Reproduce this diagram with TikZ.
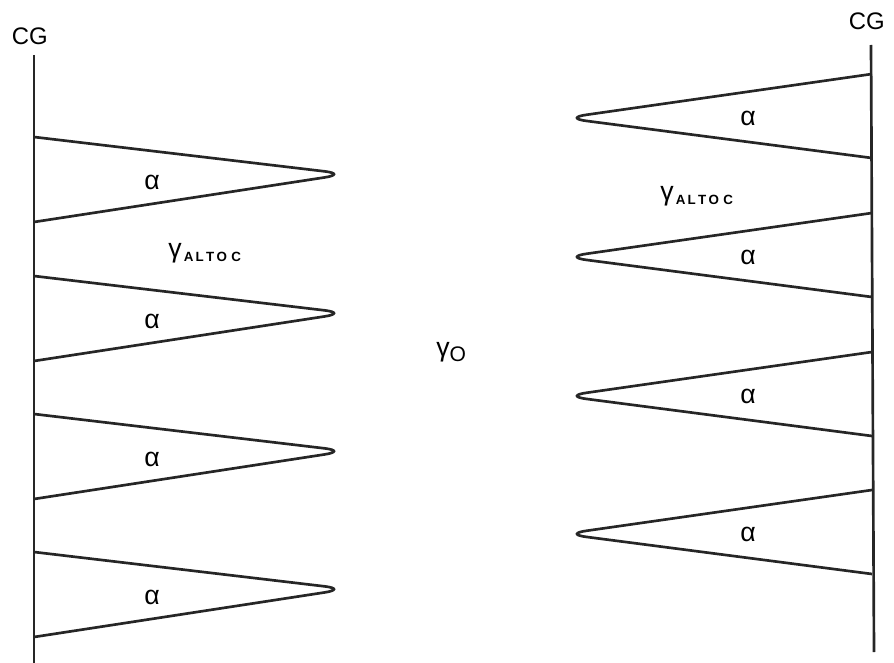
\documentclass[tikz,border=0pt]{standalone}
\usepackage{fontspec}
\setmainfont{Liberation Sans}
\usetikzlibrary{positioning}
\newcommand{\subfont}{\fontsize{9.5}{9.5}\selectfont\bfseries}

\begin{document}
\begin{tikzpicture}[x=0.025cm, y=-0.025cm,
    wall/.style={line width=1.9pt, draw=black!85},
    wedge/.style={line width=1.9pt, draw=black!85, rounded corners=16pt},
    phase/.style={font=\fontsize{19}{19}\selectfont, inner sep=0pt},
    tag/.style={font=\fontsize{17}{17}\selectfont, inner sep=0pt}
  ]
    \useasboundingbox (0,0) rectangle (894,663);

    % grain boundaries
    \coordinate (lt) at (34,55);
    \coordinate (lb) at (34,663);
    \coordinate (rt) at (871,45);
    \coordinate (rb) at (874,652);
    \draw[wall] (lt) -- (lb);
    \draw[wall] (rt) -- (rb);
    \node[tag, above=7pt of lt, xshift=-3pt] (cgl) {CG};
    \node[tag, above=11pt of rt, xshift=-3pt] (cgr) {CG};

    % alpha plates growing from the left boundary
    \foreach \i/\t in {1/137, 2/276, 3/414, 4/552} {
      \draw[wedge] (34,\t) -- (347,\t+37) -- (34,\t+85);
      \node[phase] (al\i) at (152,\t+45) {α};
    }

    % alpha plates growing from the right boundary
    \foreach \i/\t in {1/74, 2/213, 3/352, 4/490} {
      \draw[wedge] (872,\t) -- (564,\t+44) -- (872,\t+84);
      \node[phase] (ar\i) at (748,\t+44) {α};
    }

    \node[phase, anchor=west] (gl) at (168,253)
      {γ\raisebox{-3pt}{\subfont\,A\,L\,T\,O\,\,C}};
    \node[phase, anchor=west] (gr) at (660,196)
      {γ\raisebox{-3pt}{\subfont\,A\,L\,T\,O\,\,C}};
    \node[phase, anchor=west] (g0) at (436,352)
      {γ\raisebox{-4pt}{\fontsize{15}{15}\selectfont O}};
  \end{tikzpicture}
\end{document}
